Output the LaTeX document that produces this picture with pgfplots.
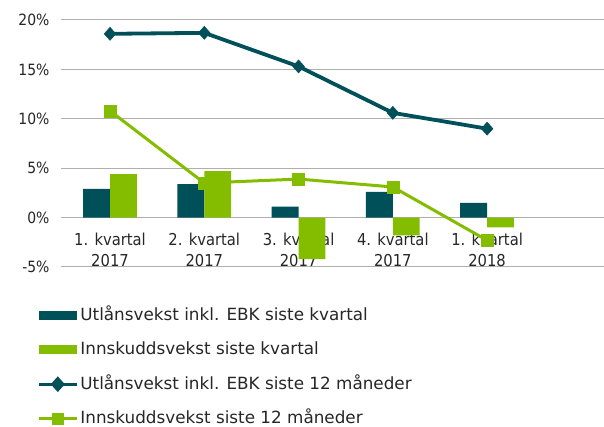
\documentclass[border=0pt]{standalone}
\usepackage{pgfplots}
\pgfplotsset{compat=1.18}
\usepackage{fontspec}
\setmainfont{DejaVu Sans Condensed}
\newfontfamily\legfont{DejaVu Sans}
\definecolor{tealc}{RGB}{0,80,90}
\definecolor{greenc}{RGB}{132,189,0}
\definecolor{gridc}{RGB}{175,175,175}
\pgfplotsset{
  tealline legend/.style={legend image code/.code={\draw[tealc, line width=3.2pt] (0pt,0pt) -- (38pt,0pt); \fill[tealc] (19pt,5pt) -- (23.5pt,0pt) -- (19pt,-5pt) -- (14.5pt,0pt) -- cycle;}},
  greenline legend/.style={legend image code/.code={\draw[greenc, line width=3pt] (0pt,0pt) -- (38pt,0pt); \fill[greenc] (14.5pt,-4.5pt) rectangle (23.5pt,4.5pt);}},
  tealbar legend/.style={legend image code/.code={\fill[tealc] (0pt,-4.5pt) rectangle (38pt,4.5pt);}},
  greenbar legend/.style={legend image code/.code={\fill[greenc] (0pt,-4.5pt) rectangle (38pt,4.5pt);}},
}
\begin{document}
\begin{tikzpicture}
\begin{axis}[
  at={(0pt,0pt)}, anchor=south west,
  scale only axis, width=543pt, height=247pt,
  xmin=-0.52, xmax=5.24, ymin=-5, ymax=20,
  axis line style={draw=none},
  major tick length=0pt,
  ytick={-5,0,5,10,15,20},
  yticklabels={-5\%,0\%,5\%,10\%,15\%,20\%},
  ymajorgrids, grid style={gridc, line width=1pt},
  xtick={0,1,2,3,4},
  xticklabels={1. kvartal\\2017,2. kvartal\\2017,3. kvartal\\2017,4. kvartal\\2017,1. kvartal\\2018},
  xticklabel style={align=center, anchor=north, yshift=37pt, font=\fontsize{16.4}{21}\selectfont, text=black!85},
  yticklabel style={font=\fontsize{15.5}{18}\selectfont, text=black!85, xshift=-8pt},
  legend style={draw=none, fill=none, at={(-0.0442,-0.158)}, anchor=north west,
     font=\legfont\fontsize{16.8}{20}\selectfont, text=black!85, row sep=16.5pt, inner sep=0pt,
     nodes={inner sep=2pt, text height=12pt, text depth=2pt}},
  legend cell align=left,
  clip=true,
]
\addplot[ybar, bar width=0.285, bar shift=-0.1425, fill=tealc, draw=none, tealbar legend]
  coordinates {(0,2.9) (1,3.4) (2,1.1) (3,2.6) (4,1.5)};
\addlegendentry{Utlånsvekst inkl. EBK siste kvartal}
\addplot[ybar, bar width=0.285, bar shift=0.1425, fill=greenc, draw=none, greenbar legend]
  coordinates {(0,4.4) (1,4.7) (2,-4.2) (3,-1.8) (4,-1.0)};
\addlegendentry{Innskuddsvekst siste kvartal}
\addplot[tealc, line width=3.8pt, mark=diamond*, mark size=6.5pt, mark options={solid, fill=tealc, line width=0.5pt, xscale=1.2}, tealline legend]
  coordinates {(0,18.6) (1,18.7) (2,15.3) (3,10.6) (4,9.0)};
\addlegendentry{Utlånsvekst inkl. EBK siste 12 måneder}
\addplot[greenc, line width=3pt, mark=square*, mark size=6pt, mark options={solid, fill=greenc, line width=0.5pt}, greenline legend]
  coordinates {(0,10.8) (1,3.5) (2,3.9) (3,3.1) (4,-2.3)};
\addlegendentry{Innskuddsvekst siste 12 måneder}
\end{axis}
\pgfresetboundingbox
\useasboundingbox (-61pt,-160pt) rectangle (543pt,267pt);
\end{tikzpicture}
\end{document}
